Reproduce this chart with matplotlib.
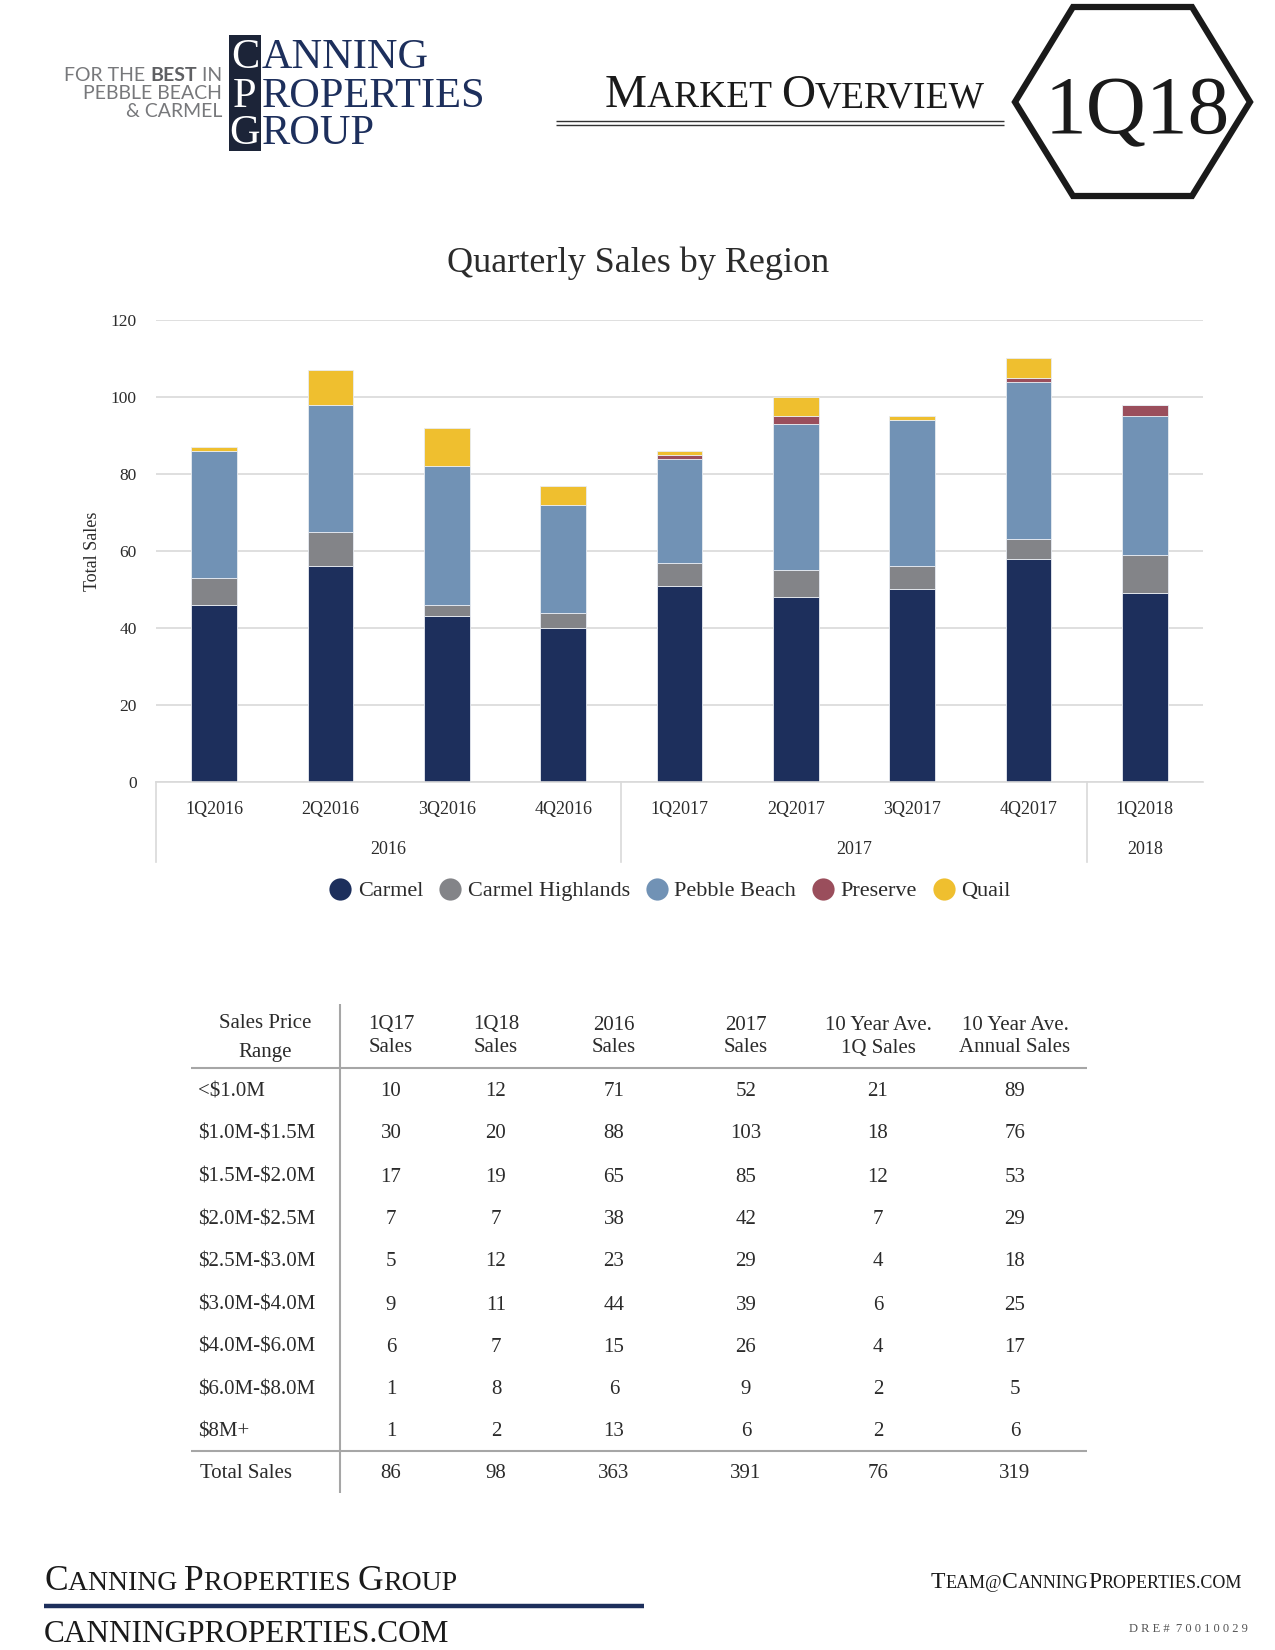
import matplotlib
matplotlib.use("Agg")
import matplotlib.pyplot as plt
from matplotlib.lines import Line2D
from matplotlib.patches import Polygon, Rectangle
import matplotlib.transforms as mtransforms

# ---------------- data ----------------
quarters = ['1Q2016', '2Q2016', '3Q2016', '4Q2016', '1Q2017', '2Q2017', '3Q2017', '4Q2017', '1Q2018']
years = ['2016', '2017', '2018']
year_spans = [(0, 3), (4, 7), (8, 8)]
carmel = [46, 56, 43, 40, 51, 48, 50, 58, 49]
highlands = [7, 9, 3, 4, 6, 7, 6, 5, 10]
pebble = [33, 33, 36, 28, 27, 38, 38, 41, 36]
preserve = [0, 0, 0, 0, 1, 2, 0, 1, 3]
quail = [1, 9, 10, 5, 1, 5, 1, 5, 0]
series_names = ['Carmel', 'Carmel Highlands', 'Pebble Beach', 'Preserve', 'Quail']
yticks = [0, 20, 40, 60, 80, 100, 120]

price_ranges = ['<$1.0M', '$1.0M-$1.5M', '$1.5M-$2.0M', '$2.0M-$2.5M', '$2.5M-$3.0M',
                '$3.0M-$4.0M', '$4.0M-$6.0M', '$6.0M-$8.0M', '$8M+']
col_headers = [('1Q17', 'Sales'), ('1Q18', 'Sales'), ('2016', 'Sales'), ('2017', 'Sales'),
               ('10 Year Ave.', '1Q Sales'), ('10 Year Ave.', 'Annual Sales')]
sales_1q17 = [10, 30, 17, 7, 5, 9, 6, 1, 1]
sales_1q18 = [12, 20, 19, 7, 12, 11, 7, 8, 2]
sales_2016 = [71, 88, 65, 38, 23, 44, 15, 6, 13]
sales_2017 = [52, 103, 85, 42, 29, 39, 26, 9, 6]
avg10_1q = [21, 18, 12, 7, 4, 6, 4, 2, 2]
avg10_annual = [89, 76, 53, 29, 18, 25, 17, 5, 6]
total_sales = [86, 98, 363, 391, 76, 319]

# ---------------- style ----------------
SERIF = ['Liberation Serif', 'DejaVu Serif']
SANS = ['Lato', 'DejaVu Sans']
NAVY = '#1d2f5c'
colors = ['#1d2f5c', '#838488', '#7192b5', '#9a4e5c', '#efbf2f']
TXT = '#2b2b2b'

W, H = 1275, 1650
fig = plt.figure(figsize=(W / 100, H / 100), dpi=100)
fig.patch.set_facecolor('white')
renderer = fig.canvas.get_renderer()


def fx(x):
    return x / W


def fy(y):
    return 1 - y / H


def text_width(s, **kw):
    t1 = fig.text(0, 0, '|' + s + '|', **kw)
    t2 = fig.text(0, 0, '||', **kw)
    w = t1.get_window_extent(renderer).width - t2.get_window_extent(renderer).width
    t1.remove()
    t2.remove()
    return w


def seg_text(x, y, segments, ha='left', color=TXT, family=SERIF, colors_=None):
    """segments: list of (string, fontsize, weight)"""
    widths = [text_width(s, fontsize=fs, fontweight=wt, family=family, parse_math=False)
              for s, fs, wt in segments]
    total = sum(widths)
    if ha == 'left':
        cx = x
    elif ha == 'right':
        cx = x - total
    else:
        cx = x - total / 2
    for i, ((s, fs, wt), w) in enumerate(zip(segments, widths)):
        c = colors_[i] if colors_ else color
        fig.text(fx(cx), fy(y), s, fontsize=fs, fontweight=wt, family=family,
                 color=c, va='baseline', ha='left', parse_math=False)
        cx += w


def smallcaps(x, y, text, big, small, ha='left', color=TXT):
    segs = []
    words = text.split(' ')
    for i, wd in enumerate(words):
        segs.append((wd[0], big, 'normal'))
        rest = wd[1:].upper()
        if i < len(words) - 1:
            rest += ' '
        if rest:
            segs.append((rest, small, 'normal'))
    seg_text(x, y, segs, ha=ha, color=color)


def hline(x0, x1, y, color, lw):
    fig.add_artist(Line2D([fx(x0), fx(x1)], [fy(y), fy(y)], transform=fig.transFigure,
                          color=color, lw=lw, solid_capstyle='butt'))


def vline(x, y0, y1, color, lw):
    fig.add_artist(Line2D([fx(x), fx(x)], [fy(y0), fy(y1)], transform=fig.transFigure,
                          color=color, lw=lw, solid_capstyle='butt'))


# ---------------- header: logo ----------------
fig.add_artist(Rectangle((fx(229), fy(151)), fx(261) - fx(229), fy(35) - fy(151),
                         transform=fig.transFigure, facecolor='#1c2438', edgecolor='none'))
logo_rows = [('C', 'ANNING', 68), ('P', 'ROPERTIES', 107), ('G', 'ROUP', 144)]
for first, rest, base in logo_rows:
    fig.text(fx(245), fy(base), first, fontsize=30.5, family=SERIF, color='white',
             ha='center', va='baseline')
    fig.text(fx(262), fy(base), rest, fontsize=30.5, family=SERIF, color=NAVY,
             ha='left', va='baseline')

tag_col = '#77787b'
seg_text(222, 81, [('FOR THE ', 14, 'normal'), ('BEST', 14, 'bold'), (' IN', 14, 'normal')],
         ha='right', family=SANS, colors_=[tag_col, '#5f6063', tag_col])
seg_text(222, 99, [('PEBBLE BEACH', 14, 'normal')], ha='right', color=tag_col, family=SANS)
seg_text(222, 117, [('& CARMEL', 14, 'normal')], ha='right', color=tag_col, family=SANS)

# Market overview
smallcaps(795, 107, 'Market Overview', 34, 27, ha='center', color='#1a1a1a')
hline(556, 1004, 121, '#333333', 1.0)
hline(556, 1004, 124.5, '#333333', 1.0)

# Hexagon with 1Q18
hexv = [(1015, 102), (1073, 7), (1192, 7), (1250, 102), (1192, 196), (1073, 196)]
fig.add_artist(Polygon([(fx(a), fy(b)) for a, b in hexv], closed=True, transform=fig.transFigure,
                       facecolor='none', edgecolor='#1a1a1a', lw=4.5, joinstyle='miter'))
fig.text(fx(1137), fy(133), '1Q18', fontsize=60, family=SERIF, color='#1a1a1a',
         ha='center', va='baseline')

# ---------------- chart ----------------
fig.text(fx(638), fy(263), 'Quarterly Sales by Region', fontsize=26, family=SERIF,
         color=TXT, ha='center', va='center')

ax_l, ax_r, ax_t, ax_b = 156, 1203, 320, 782
ax = fig.add_axes([fx(ax_l), fy(ax_b), (ax_r - ax_l) / W, (ax_b - ax_t) / H])
x = list(range(len(quarters)))
bottoms = [0] * len(quarters)
for vals, col, name in zip([carmel, highlands, pebble, preserve, quail], colors, series_names):
    ax.bar(x, vals, width=0.39, bottom=bottoms, color=col, edgecolor='#e8ecf2',
           linewidth=0.6, label=name, zorder=3)
    bottoms = [b + v for b, v in zip(bottoms, vals)]

ax.set_ylim(0, 120)
ax.set_xlim(-0.5, len(quarters) - 0.5)
ax.set_yticks(yticks)
ax.set_yticklabels([str(v) for v in yticks], family=SERIF, fontsize=12.5, color=TXT)
ax.tick_params(axis='y', length=0, pad=14)
ax.set_xticks([])
ax.grid(axis='y', color='#d9d9d9', lw=1.2, zorder=0)
for s in ['top', 'right', 'left']:
    ax.spines[s].set_visible(False)
ax.spines['bottom'].set_color('#d9d9d9')
ax.spines['bottom'].set_linewidth(1.2)
ax.spines['bottom'].set_zorder(4)
ax.set_ylabel('Total Sales', family=SERIF, fontsize=13, color=TXT)
ax.yaxis.set_label_coords((101 - ax_l) / (ax_r - ax_l), 0.5)

trans = mtransforms.blended_transform_factory(ax.transData, ax.transAxes)
axh = ax_b - ax_t
for xi, q in zip(x, quarters):
    ax.text(xi, -(810 - ax_b) / axh, q, transform=trans, ha='center', va='center',
            family=SERIF, fontsize=13, color=TXT, clip_on=False)
for yr, (a, b) in zip(years, year_spans):
    left = a - 0.5
    right = b + 0.5
    ax.text((left + right) / 2, -(850 - ax_b) / axh, yr, transform=trans, ha='center',
            va='center', family=SERIF, fontsize=13, color=TXT, clip_on=False)
for sep in [-0.5, 3.5, 7.5]:
    ax.plot([sep, sep], [0, -(862 - ax_b) / axh], transform=trans, color='#d9d9d9',
            lw=1.2, clip_on=False)

handles = [Line2D([0], [0], marker='o', linestyle='none', markersize=16,
                  markerfacecolor=c, markeredgecolor='none') for c in colors]
fig.legend(handles, series_names, loc='center', bbox_to_anchor=(fx(670), fy(891)),
           ncol=5, frameon=False, prop={'family': SERIF, 'size': 16},
           handletextpad=0.3, columnspacing=0.7, handlelength=1.0,
           labelcolor=TXT)

# ---------------- table ----------------
col_x = [391, 496, 614, 746, 878, 1015]
row_y = [1092, 1134, 1177, 1220, 1262, 1305, 1347, 1390, 1432]
total_y = 1474
TFS = 15
fig.text(fx(265), fy(1023), 'Sales Price', family=SERIF, fontsize=TFS, color=TXT,
         ha='center', va='center')
fig.text(fx(265), fy(1052), 'Range', family=SERIF, fontsize=TFS, color=TXT,
         ha='center', va='center')
for cx, (l1, l2) in zip(col_x, col_headers):
    fig.text(fx(cx), fy(1025), l1, family=SERIF, fontsize=TFS, color=TXT, ha='center', va='center')
    fig.text(fx(cx), fy(1048), l2, family=SERIF, fontsize=TFS, color=TXT, ha='center', va='center')

columns = [sales_1q17, sales_1q18, sales_2016, sales_2017, avg10_1q, avg10_annual]
for r, (ry, label) in enumerate(zip(row_y, price_ranges)):
    fig.text(fx(198), fy(ry), label, family=SERIF, fontsize=TFS, color=TXT, ha='left',
             va='center', parse_math=False)
    for cx, col in zip(col_x, columns):
        fig.text(fx(cx), fy(ry), str(col[r]), family=SERIF, fontsize=TFS, color=TXT,
                 ha='center', va='center')
fig.text(fx(200), fy(total_y), 'Total Sales', family=SERIF, fontsize=TFS, color=TXT,
         ha='left', va='center')
for cx, v in zip(col_x, total_sales):
    fig.text(fx(cx), fy(total_y), str(v), family=SERIF, fontsize=TFS, color=TXT,
             ha='center', va='center')

RULE = '#a6a6a6'
hline(191, 1087, 1068, RULE, 1.5)
hline(191, 1087, 1451, RULE, 1.5)
vline(340, 1004, 1493, RULE, 1.5)

# ---------------- footer ----------------
smallcaps(44, 1590, 'Canning Properties Group', 25.5, 20, ha='left', color='#1a1a1a')
hline(44, 644, 1606, NAVY, 3.2)
fig.text(fx(44), fy(1642), 'CANNINGPROPERTIES.COM', family=SERIF, fontsize=22.5,
         color='#1a1a1a', ha='left', va='baseline')
seg_text(1242, 1588, [('T', 17, 'normal'), ('EAM@', 13, 'normal'), ('C', 17, 'normal'),
                      ('ANNING', 13, 'normal'), ('P', 17, 'normal'), ('ROPERTIES.COM', 13, 'normal')],
         ha='right', color='#1a1a1a')
fig.text(fx(1248), fy(1632), 'D R E #  7 0 0 1 0 0 2 9', family=SERIF, fontsize=9,
         color='#555555', ha='right', va='baseline')

fig.savefig('out.png', dpi=100, facecolor='white')
